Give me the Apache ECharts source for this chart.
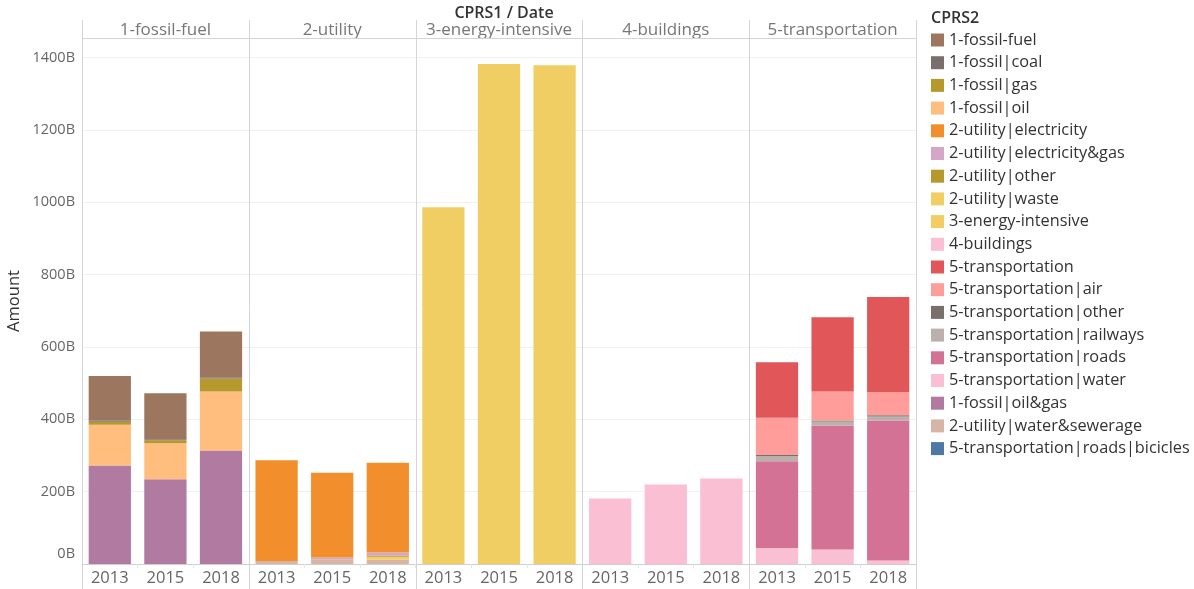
<!DOCTYPE html>
<html>
<head>
<meta charset="utf-8">
<script src="https://cdn.jsdelivr.net/npm/echarts@6/dist/echarts.min.js"></script>
<style>
  html, body { margin: 0; padding: 0; background: #fff; }
  #charts { width: 1194px; height: 589px; }
</style>
</head>
<body>
<div id="charts"></div>
<script>
// data (values in billions)
const years = ['2013', '2015', '2018']
const panels = ['1-fossil-fuel', '2-utility', '3-energy-intensive', '4-buildings', '5-transportation']
const yTicks = [0, 200, 400, 600, 800, 1000, 1200, 1400]

const fossilFuel = [124, 127, 127]
const fossilCoal = [3, 3, 3]
const fossilGas = [8, 8, 36]
const fossilOil = [113, 100, 163]
const fossilOilGas = [272, 234, 314]

const utilElectricity = [279, 234, 248]
const utilElecGas = [0, 5, 9]
const utilOther = [0, 0, 3]
const utilWaste = [0, 0, 8]
const utilWaterSewer = [8, 13, 12]

const energyIntensive = [986, 1382, 1379]

const buildings = [181, 220, 236]

const transport = [154, 205, 263]
const transAir = [103, 80, 64]
const transOther = [3, 3, 3]
const transRail = [14, 11, 11]
const transRoads = [240, 343, 387]
const transWater = [44, 40, 10]
const transBicicles = [0, 0, 0]

// legend order (top of stack first), with panel index and colour
const cprs2 = [
  ['1-fossil-fuel', 0, fossilFuel, '#9d7660'],
  ['1-fossil|coal', 0, fossilCoal, '#79706e'],
  ['1-fossil|gas', 0, fossilGas, '#b6992d'],
  ['1-fossil|oil', 0, fossilOil, '#ffbe7d'],
  ['2-utility|electricity', 1, utilElectricity, '#f28e2b'],
  ['2-utility|electricity&gas', 1, utilElecGas, '#d4a6c8'],
  ['2-utility|other', 1, utilOther, '#b6992d'],
  ['2-utility|waste', 1, utilWaste, '#f1ce63'],
  ['3-energy-intensive', 2, energyIntensive, '#f1ce63'],
  ['4-buildings', 3, buildings, '#fabfd2'],
  ['5-transportation', 4, transport, '#e15759'],
  ['5-transportation|air', 4, transAir, '#ff9d9a'],
  ['5-transportation|other', 4, transOther, '#79706e'],
  ['5-transportation|railways', 4, transRail, '#bab0ac'],
  ['5-transportation|roads', 4, transRoads, '#d37295'],
  ['5-transportation|water', 4, transWater, '#fabfd2'],
  ['1-fossil|oil&gas', 0, fossilOilGas, '#b07aa1'],
  ['2-utility|water&sewerage', 1, utilWaterSewer, '#d7b5a6'],
  ['5-transportation|roads|bicicles', 4, transBicicles, '#4e79a7']
]

const FONT = '"Open Sans", sans-serif'
const PL = 82, PR = 916, TOP = 38, BOTTOM = 25
const panelW = (PR - PL) / panels.length
const yMax = 1454

const grids = [], xAxes = [], yAxes = [], graphics = []
panels.forEach((p, i) => {
  grids.push({ left: PL + i * panelW, width: panelW, top: TOP, bottom: BOTTOM })
  xAxes.push({
    type: 'category', gridIndex: i, data: years,
    axisLine: { lineStyle: { color: '#cfcfcf' } },
    axisTick: { show: true, length: 4, lineStyle: { color: '#e6e6e6' } },
    axisLabel: { color: '#666', fontSize: 16.5, fontFamily: FONT, margin: 6 }
  })
  yAxes.push({
    type: 'value', gridIndex: i, min: 0, max: yMax, interval: 200,
    axisLine: { show: false }, axisTick: { show: false },
    splitLine: { lineStyle: { color: '#f0f0f0' } },
    axisLabel: {
      show: i === 0, color: '#666', fontSize: 14.5, fontFamily: FONT, margin: 7,
      formatter: v => v === 0 ? '{z|0B}' : (yTicks.includes(v) ? v + 'B' : ''),
      rich: { z: { fontSize: 14.5, fontFamily: FONT, color: '#666', padding: [0, 0, 20, 0] } }
    },
    name: i === 0 ? 'Amount' : '',
    nameLocation: 'middle', nameRotate: 90, nameGap: 59,
    nameTextStyle: { color: '#333', fontSize: 16.5, fontFamily: FONT }
  })
  graphics.push({
    type: 'text', z: 10,
    style: {
      text: p, x: PL + (i + 0.5) * panelW, y: 30,
      textAlign: 'center', textVerticalAlign: 'middle',
      font: '17px ' + FONT, fill: '#777'
    }
  })
})
for (let i = 0; i <= panels.length; i++) {
  const x = Math.round(PL + i * panelW) + 0.5
  graphics.push({ type: 'line', z: 10, shape: { x1: x, y1: 20, x2: x, y2: 589 }, style: { stroke: '#d4d4d4', lineWidth: 1 } })
}
graphics.push({ type: 'line', z: 10, shape: { x1: PL, y1: TOP + 0.5, x2: PR, y2: TOP + 0.5 }, style: { stroke: '#d4d4d4', lineWidth: 1 } })

// stack bottom-up: reverse legend order
const series = cprs2.slice().reverse().map(([name, g, data, color]) => ({
  name, type: 'bar', stack: 'p' + g,
  xAxisIndex: g, yAxisIndex: g,
  barCategoryGap: '24%',
  itemStyle: { color },
  emphasis: { disabled: true },
  data
}))

const myCharts = echarts.init(document.getElementById('charts'))
myCharts.setOption({
  animation: false,
  title: [
    { text: 'CPRS1 / Date', left: (PL + PR) / 2, top: 0, textAlign: 'center',
      textStyle: { fontSize: 16, fontWeight: 600, color: '#333', fontFamily: FONT } },
    { text: 'CPRS2', left: 926, top: 5,
      textStyle: { fontSize: 16, fontWeight: 600, color: '#333', fontFamily: FONT } }
  ],
  legend: {
    orient: 'vertical', left: 926, top: 27,
    icon: 'rect', itemWidth: 13, itemHeight: 13, itemGap: 6.7, itemTextGap: 6,
    textStyle: { color: '#333', fontSize: 16.3, fontFamily: FONT },
    data: cprs2.map(c => c[0])
  },
  tooltip: {},
  grid: grids,
  xAxis: xAxes,
  yAxis: yAxes,
  graphic: graphics,
  series
})
</script>
</body>
</html>
